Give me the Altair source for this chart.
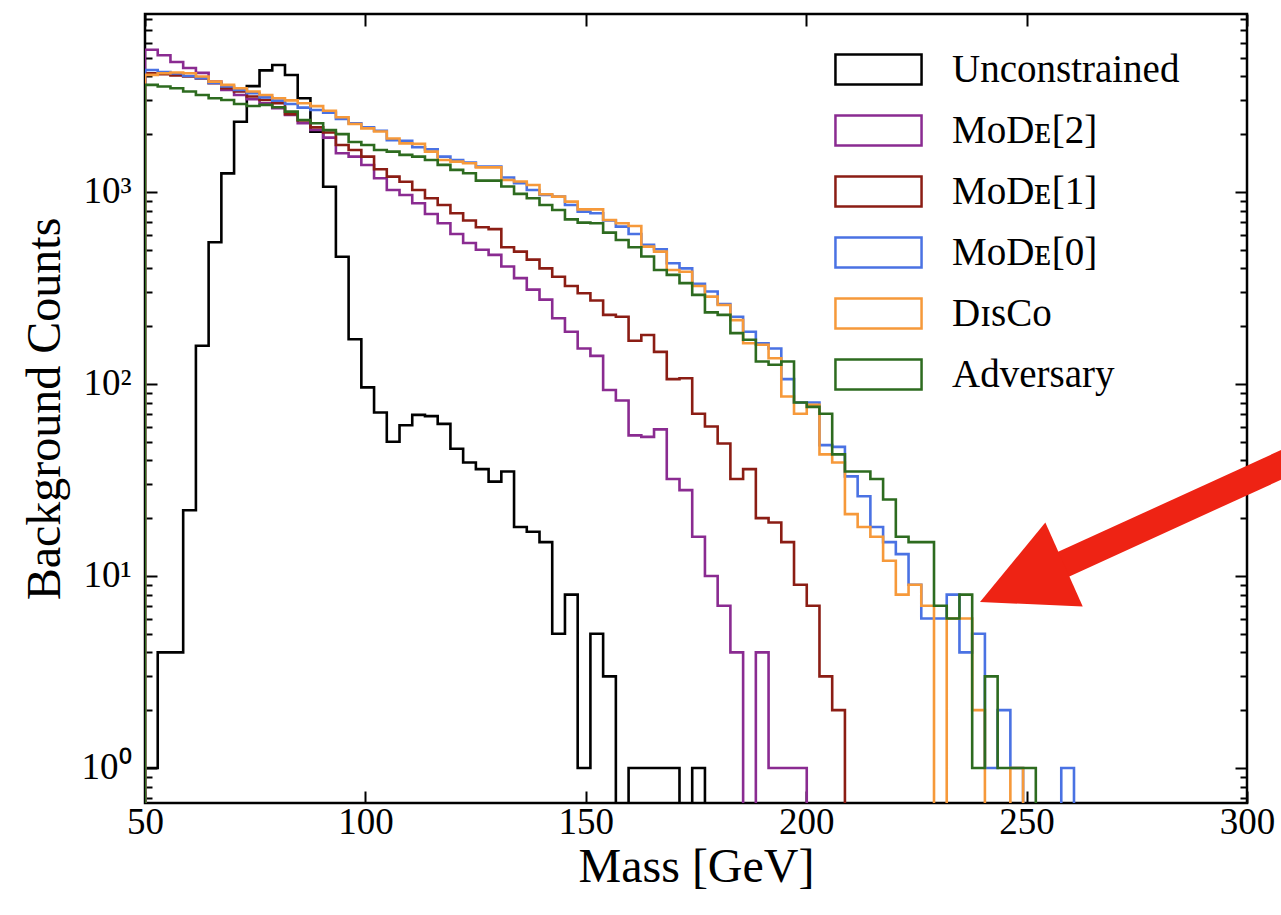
import altair as alt
import pandas as pd

# ------------------------------------------------------------------ data
bin_start = 50.0          # GeV, left edge of first bin
bin_width = 2.887         # GeV

series_names = ["Unconstrained", "MᴏDᴇ[2]", "MᴏDᴇ[1]", "MᴏDᴇ[0]", "DɪsCᴏ", "Adversary"]
series_colors = ["#000000", "#8a2b91", "#8b1d14", "#4a72e3", "#f6993a", "#2d6b1f"]

# counts per bin (bins start at 50 GeV)
unconstrained = [1, 4, 4, 22, 158, 547, 1250, 2320, 3560, 4300, 4580, 4065, 3075, 2060, 1065, 460,
                 171, 96, 71, 50, 61, 69, 68, 62, 46, 39, 36, 31, 35, 18, 17, 15, 5, 8, 1, 5, 3, 0,
                 1, 1, 1, 1, 0, 1]
mode2 = [5500, 5150, 4750, 4420, 4170, 3755, 3400, 3200, 3040, 2897, 2730, 2515, 2280, 2103, 1918,
         1590, 1527, 1382, 1178, 1024, 964, 873, 768, 687, 604, 542, 500, 470, 409, 356, 310, 275,
         220, 187, 153, 140, 93, 82, 54, 53, 58, 32, 28, 16, 10, 7, 4, 0, 4, 1, 1, 1]
mode1 = [4150, 4100, 4050, 3990, 3900, 3680, 3470, 3335, 3140, 3015, 2900, 2540, 2360, 2170, 2040,
         1757, 1655, 1527, 1313, 1202, 1131, 1024, 927, 856, 774, 710, 655, 640, 515, 489, 444,
         400, 362, 324, 297, 272, 229, 224, 168, 180, 147, 106, 107, 70, 60, 49, 32, 36, 20, 19,
         15, 9, 7, 3, 2]
mode0 = [4320, 4215, 4140, 4020, 3910, 3700, 3540, 3400, 3265, 3110, 2990, 2870, 2750, 2673, 2590,
         2400, 2280, 2170, 2085, 1860, 1845, 1710, 1667, 1527, 1468, 1422, 1355, 1355, 1189, 1110,
         1024, 964, 946, 856, 790, 774, 710, 660, 604, 530, 503, 425, 400, 332, 303, 261, 224, 187,
         163, 153, 106, 80, 80, 48, 47, 33, 26, 18, 15, 13, 9, 6, 6, 8, 4, 5, 1, 2, 1, 0, 0, 0, 1]
disco = [4070, 4150, 4190, 4150, 3990, 3755, 3610, 3470, 3335, 3200, 3075, 3000, 2895, 2800, 2650,
         2450, 2260, 2145, 2065, 1900, 1790, 1780, 1622, 1468, 1438, 1410, 1343, 1343, 1155, 1133,
         1088, 973, 946, 891, 812, 812, 715, 687, 665, 519, 489, 392, 384, 324, 285, 258, 215, 163,
         160, 136, 86, 70, 78, 43, 39, 21, 18, 16, 12, 8, 9, 7, 0, 6, 6, 2, 0, 0, 1]
adversary = [3610, 3540, 3470, 3335, 3200, 3075, 3015, 2870, 2805, 2840, 2760, 2620, 2370, 2280,
             2100, 2000, 1820, 1757, 1655, 1622, 1560, 1527, 1468, 1383, 1303, 1251, 1146, 1146,
             1067, 977, 927, 856, 806, 720, 692, 687, 614, 562, 515, 461, 392, 370, 335, 291, 236,
             229, 184, 170, 131, 126, 131, 80, 76, 70, 43, 35, 35, 32, 25, 16, 15, 15, 7, 6, 8, 1,
             3, 1, 1, 1]
all_counts = [unconstrained, mode2, mode1, mode0, disco, adversary]

x_domain = [50, 300]
y_domain = [0.657, 8450]
x_ticks = [50, 100, 150, 200, 250, 300]
y_major = [1, 10, 100, 1000]
y_major_labels = ["10⁰", "10¹", "10²", "10³"]
y_minor = [0.7, 0.8, 0.9, 2, 3, 4, 5, 6, 7, 8, 9, 20, 30, 40, 50, 60, 70, 80, 90,
           200, 300, 400, 500, 600, 700, 800, 900, 2000, 3000, 4000, 5000, 6000, 7000, 8000]

# red annotation arrow (data coordinates)
arrow_shaft_mass = [255.2, 312.0]
arrow_shaft_count = [10.66, 42.0]
arrow_head_mass = [248.96]
arrow_head_count = [9.16]

EMPTY = 0.1  # empty bins fall below the axis floor (log scale) and are clipped

# ------------------------------------------------------------------ table
rows = []
for name, counts in zip(series_names, all_counts):
    k = 0
    rows.append({"series": name, "mass": bin_start, "count": EMPTY, "order": k})
    for i, c in enumerate(counts):
        k += 1
        rows.append({"series": name, "mass": bin_start + i * bin_width,
                     "count": c if c > 0 else EMPTY, "order": k})
    k += 1
    rows.append({"series": name, "mass": bin_start + len(counts) * bin_width,
                 "count": EMPTY, "order": k})
df = pd.DataFrame(rows)

FONT = "Liberation Serif"
xs = alt.Scale(domain=x_domain, nice=False, zero=False)
ys = alt.Scale(type="log", domain=y_domain, nice=False)

# legend symbol: an open rectangle ~86 x 30 px drawn around a 30 px symbol cell
color = alt.Color(
    "series:N",
    scale=alt.Scale(domain=series_names, range=series_colors),
    legend=alt.Legend(
        title=None, orient="none", legendX=714, legendY=36, padding=0,
        symbolType="M-2.87,-1H2.87V1H-2.87Z", symbolSize=900, symbolStrokeWidth=2.5,
        labelFont=FONT, labelFontSize=39, labelColor="black", labelOffset=54,
        labelLimit=0, rowPadding=20,
    ),
)

label_expr = ("indexof({v}, datum.value) >= 0 ? {l}[indexof({v}, datum.value)] : ''"
              .format(v=str(y_major), l=str(y_major_labels).replace('"', "'")))

x_axis_main = alt.Axis(
    orient="bottom", values=x_ticks, format="d", labelFont=FONT, labelFontSize=37,
    labelColor="black", labelPadding=1, labelFlush=False, labelOverlap=False,
    tickSize=12, tickWidth=2, tickColor="black", offset=-12, domain=False, grid=False,
    title="Mass [GeV]", titleFont=FONT, titleFontSize=48, titleFontWeight="normal",
    titleColor="black", titlePadding=3,
)
y_axis_main = alt.Axis(
    orient="left", values=y_major, labelExpr=label_expr, labelFont=FONT, labelFontSize=37,
    labelColor="black", labelPadding=14, labelOverlap=False, labelFlush=False,
    tickSize=12, tickWidth=2, tickColor="black", offset=-12, domain=False, grid=False,
    title="Background Counts", titleFont=FONT, titleFontSize=48, titleFontWeight="normal",
    titleColor="black", titlePadding=12,
)


def plain_axis(orient, values, size):
    return alt.Axis(orient=orient, values=values, labels=False, title=None, domain=False,
                    grid=False, tickSize=size, tickWidth=2, tickColor="black", offset=-size)


base = alt.Chart(df).mark_line(interpolate="step-after", strokeWidth=2.6, clip=True)
line_layers = [
    base.transform_filter(alt.datum.series == name).encode(
        x=alt.X("mass:Q", scale=xs, axis=x_axis_main if i == 0 else None),
        y=alt.Y("count:Q", scale=ys, axis=y_axis_main if i == 0 else None),
        color=color,
        order=alt.Order("order:Q"),
    )
    for i, name in enumerate(series_names)
]

dummy = pd.DataFrame({"mass": [100.0], "count": [10.0]})
axis_top_right = alt.Chart(dummy).mark_point(opacity=0).encode(
    x=alt.X("mass:Q", scale=xs, axis=plain_axis("top", x_ticks, 12)),
    y=alt.Y("count:Q", scale=ys, axis=plain_axis("right", y_major, 12)),
)
axis_minor_left = alt.Chart(dummy).mark_point(opacity=0).encode(
    x=alt.X("mass:Q", scale=xs, axis=None),
    y=alt.Y("count:Q", scale=ys, axis=plain_axis("left", y_minor, 7)),
)
axis_minor_right = alt.Chart(dummy).mark_point(opacity=0).encode(
    x=alt.X("mass:Q", scale=xs, axis=None),
    y=alt.Y("count:Q", scale=ys, axis=plain_axis("right", y_minor, 7)),
)

arrow_df = pd.DataFrame({"mass": arrow_shaft_mass, "count": arrow_shaft_count})
head_df = pd.DataFrame({"mass": arrow_head_mass, "count": arrow_head_count})
arrow_shaft = alt.Chart(arrow_df).mark_line(
    color="#ee2314", strokeWidth=27, strokeCap="butt", clip=False
).encode(x=alt.X("mass:Q", scale=xs, axis=None), y=alt.Y("count:Q", scale=ys, axis=None))
arrow_head = alt.Chart(head_df).mark_point(
    shape="M-1,0L1,-1L1,1Z", size=8464, angle=336, filled=True, opacity=1,
    color="#ee2314", strokeWidth=0, clip=False
).encode(x=alt.X("mass:Q", scale=xs, axis=None), y=alt.Y("count:Q", scale=ys, axis=None))

chart = alt.layer(
    *line_layers, axis_top_right, axis_minor_left, axis_minor_right, arrow_shaft, arrow_head
).resolve_axis(x="independent", y="independent").properties(
    width=1102, height=789,
    autosize=alt.AutoSizeParams(type="none"),
    padding={"left": 145, "top": 14, "right": 34, "bottom": 112},
    background="white",
).configure_view(stroke="black", strokeWidth=2.5)

chart.save("out.html", embed_options={"renderer": "svg", "actions": False})
